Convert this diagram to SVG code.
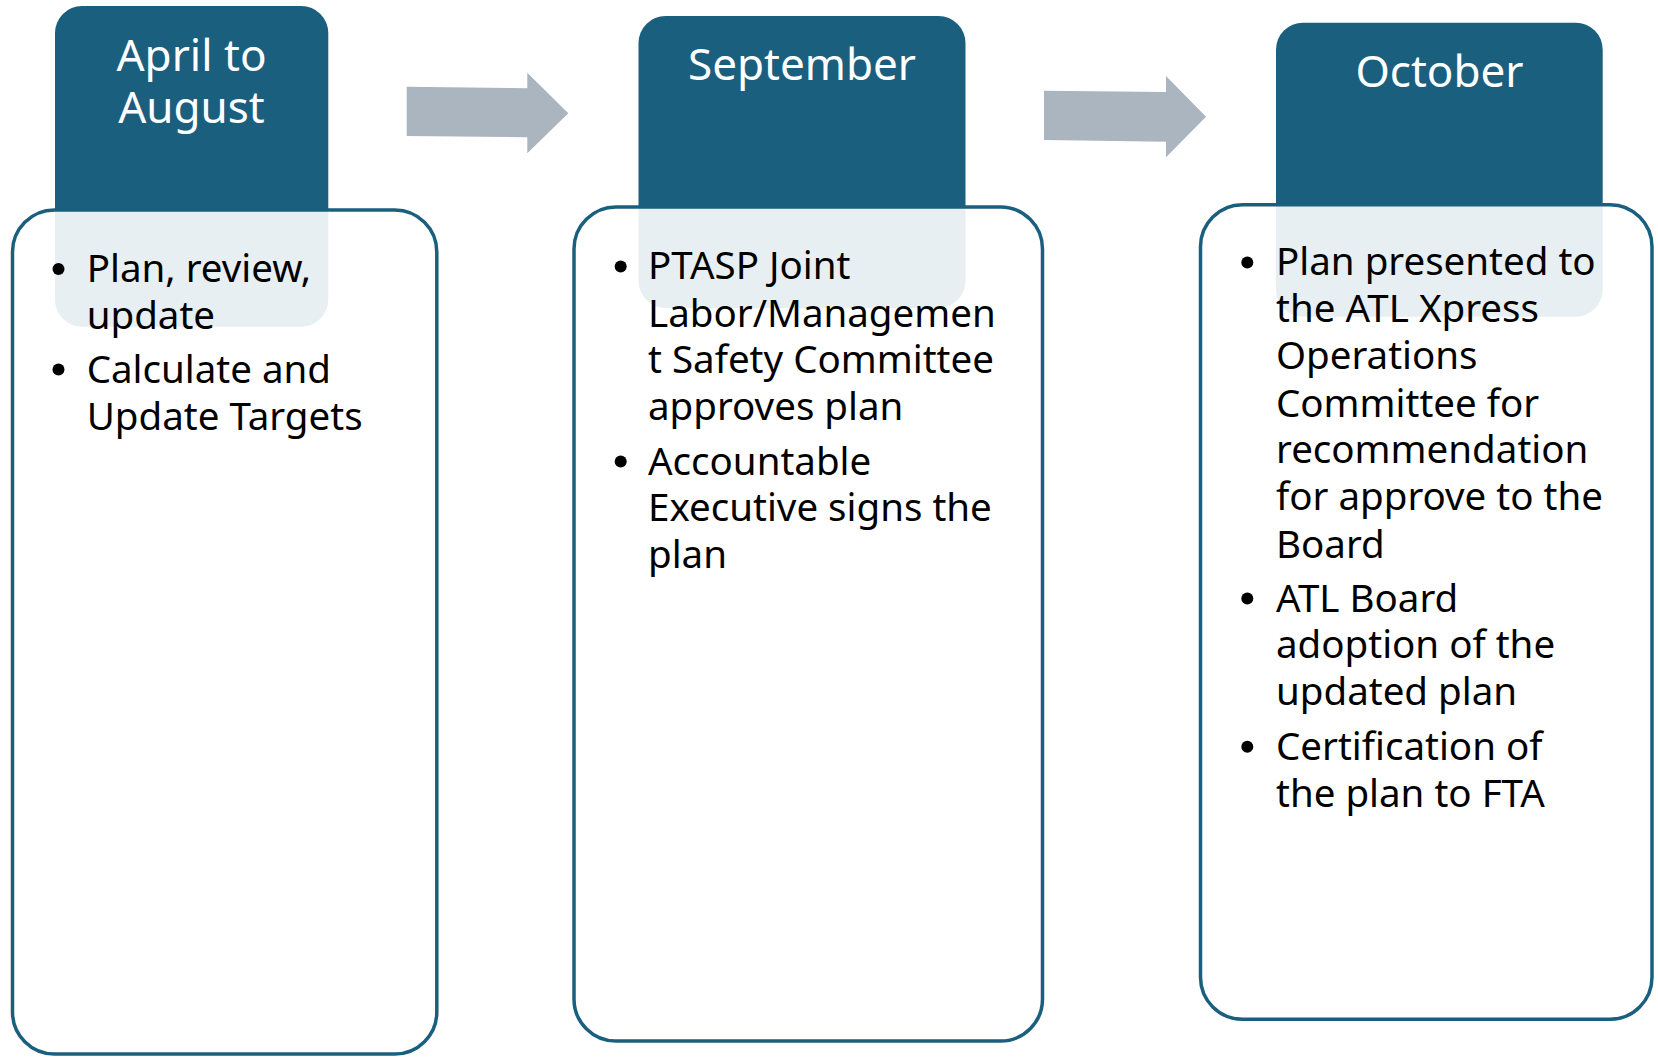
<svg xmlns="http://www.w3.org/2000/svg" width="1658" height="1057" viewBox="0 0 1658 1057">
  <style>
    .hdr { fill: #1B5F7F; }
    .body { fill: #FFFFFF; fill-opacity: 0.9; stroke: #1B5F7F; stroke-width: 3.5; }
    .htxt { font-family: "Noto Sans", "Open Sans", sans-serif; font-size: 44px; fill: #FFFFFF; text-anchor: middle; }
    .btxt { font-family: "Noto Sans", "Open Sans", sans-serif; font-size: 38.5px; fill: #000000; }
    .bul { fill: #000000; }
    .arrow { fill: #AAB5C0; }
  </style>
  <rect width="1658" height="1057" fill="#FFFFFF"/>

  <g id="connectors">
    <polygon class="arrow" points="406.7,86.7 527.3,88.3 527.3,72.7 568.3,113.3 527.3,153.3 527.3,137.3 406.7,136"/>
    <polygon class="arrow" points="1044,90.7 1166,92 1166,76 1206,116.7 1166,157.3 1166,141.7 1044,140"/>
  </g>

  <g id="node-april-august">
    <rect class="hdr" x="55" y="6" width="273.3" height="320.7" rx="27" ry="27"/>
    <text class="htxt" x="191.5" y="71">April to</text>
    <text class="htxt" x="191.5" y="123">August</text>
    <rect class="body" x="12.5" y="210" width="424.3" height="844" rx="42" ry="42"/>
    <circle class="bul" cx="58.5" cy="269" r="6"/>
    <text class="btxt" x="86.7" y="281.7">Plan, review,</text>
    <text class="btxt" x="86.7" y="328.5">update</text>
    <circle class="bul" cx="58.5" cy="369.5" r="6"/>
    <text class="btxt" x="86.7" y="382.5">Calculate and</text>
    <text class="btxt" x="86.7" y="429.5">Update Targets</text>
  </g>

  <g id="node-september">
    <rect class="hdr" x="638.5" y="16" width="327" height="292" rx="27" ry="27"/>
    <text class="htxt" x="802" y="80">September</text>
    <rect class="body" x="574" y="207" width="468.5" height="834" rx="42" ry="42"/>
    <circle class="bul" cx="620.7" cy="266.5" r="6"/>
    <text class="btxt" x="648" y="279.3">PTASP Joint</text>
    <text class="btxt" x="648" y="326.5">Labor/Managemen</text>
    <text class="btxt" x="648" y="373.3">t Safety Committee</text>
    <text class="btxt" x="648" y="420">approves plan</text>
    <circle class="bul" cx="620.7" cy="461.5" r="6"/>
    <text class="btxt" x="648" y="474.5">Accountable</text>
    <text class="btxt" x="648" y="521.3">Executive signs the</text>
    <text class="btxt" x="648" y="568.2">plan</text>
  </g>

  <g id="node-october">
    <rect class="hdr" x="1276" y="22.7" width="326.7" height="294" rx="27" ry="27"/>
    <text class="htxt" x="1439.5" y="87.3">October</text>
    <rect class="body" x="1200.5" y="204.7" width="451.5" height="814.5" rx="42" ry="42"/>
    <circle class="bul" cx="1247.3" cy="262.5" r="6"/>
    <text class="btxt" x="1276" y="275">Plan presented to</text>
    <text class="btxt" x="1276" y="322.3">the ATL Xpress</text>
    <text class="btxt" x="1276" y="369.3">Operations</text>
    <text class="btxt" x="1276" y="416.7">Committee for</text>
    <text class="btxt" x="1276" y="463.3">recommendation</text>
    <text class="btxt" x="1276" y="510">for approve to the</text>
    <text class="btxt" x="1276" y="558.3">Board</text>
    <circle class="bul" cx="1247.3" cy="598.5" r="6"/>
    <text class="btxt" x="1276" y="611.7">ATL Board</text>
    <text class="btxt" x="1276" y="658.3">adoption of the</text>
    <text class="btxt" x="1276" y="705">updated plan</text>
    <circle class="bul" cx="1247.3" cy="746.7" r="6"/>
    <text class="btxt" x="1276" y="760">Certification of</text>
    <text class="btxt" x="1276" y="806.7">the plan to FTA</text>
  </g>
</svg>
